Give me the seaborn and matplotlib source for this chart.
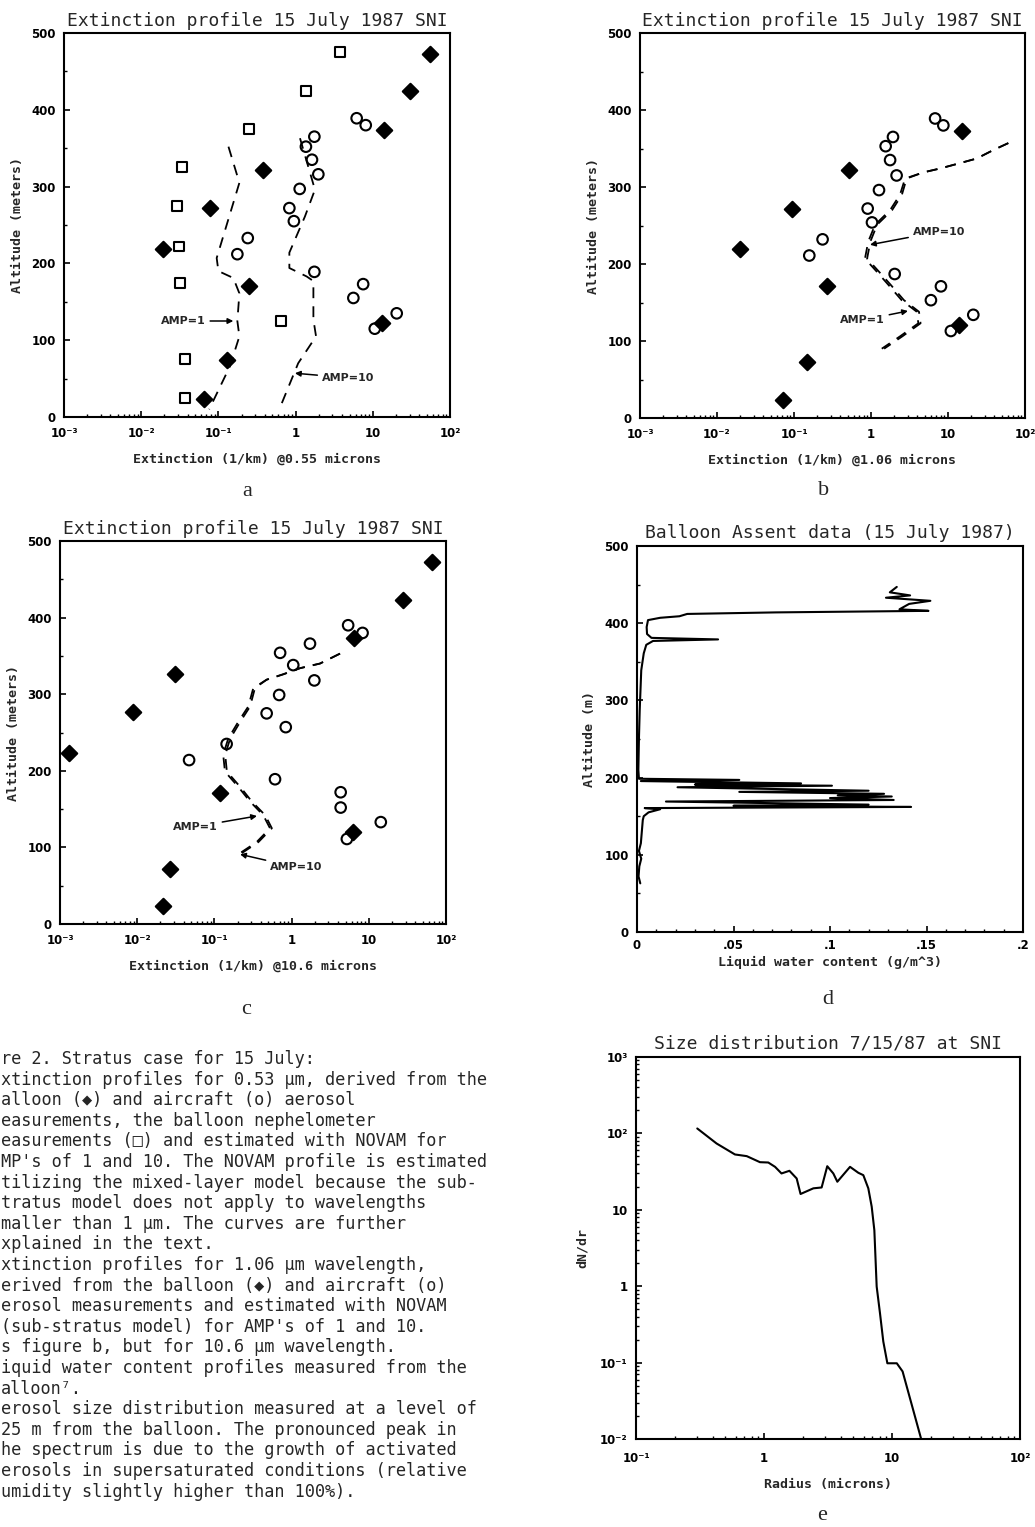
import numpy as np
import matplotlib
matplotlib.use("Agg")
import matplotlib.pyplot as plt
from matplotlib.ticker import MultipleLocator, LogLocator, NullFormatter
import seaborn as sns

# ---------------- data ----------------
ext_ticks = [1e-3, 1e-2, 1e-1, 1, 10, 100]
ext_ticklabels = ["10⁻³", "10⁻²", "10⁻¹", "1", "10", "10²"]
alt_ticks = [0, 100, 200, 300, 400, 500]

# panel a (0.55 micron)
a_neph_x = [3.76, 1.36, 0.25, 0.034, 0.029, 0.031, 0.032, 0.64, 0.037, 0.037]
a_neph_y = [475, 425, 375, 325, 275, 222, 175, 125, 75, 25]
a_bal_x = [55.6, 30.6, 14.1, 0.38, 0.077, 0.019, 0.246, 13.3, 0.128, 0.066]
a_bal_y = [473, 424, 374, 322, 272, 219, 171, 123, 74, 24]
a_air_x = [6.18, 8.1, 1.75, 1.36, 1.63, 1.97, 1.13, 0.83, 0.95, 0.24, 0.176, 1.75, 7.5, 5.6, 20.4, 10.6]
a_air_y = [389, 380, 365, 352, 335, 316, 297, 272, 255, 233, 212, 189, 173, 155, 135, 115]
a_amp1_x = [0.135, 0.187, 0.095, 0.1, 0.156, 0.187, 0.176, 0.187, 0.141, 0.076]
a_amp1_y = [352, 305, 207, 190, 181, 161, 125, 105, 66, 10]
a_amp10_x = [1.14, 1.78, 1.32, 0.83, 0.83, 1.39, 1.70, 1.70, 1.84, 1.08, 0.615]
a_amp10_y = [363, 296, 261, 214, 194, 183, 177, 127, 105, 70, 10]

# panel b (1.06 micron)
b_bal_x = [15, 0.52, 0.095, 0.0199, 0.271, 14, 0.149, 0.0726]
b_bal_y = [373, 322, 271, 219, 171, 121, 73, 24]
b_air_x = [6.8, 8.7, 1.93, 1.55, 1.77, 2.15, 1.27, 0.905, 1.03, 0.235, 0.158, 2.03, 8.1, 6.0, 21.3, 10.9]
b_air_y = [389, 380, 365, 353, 335, 315, 296, 272, 254, 232, 211, 187, 171, 153, 134, 113]
b_amp1_x = [60.7, 38.8, 23.6, 14.3, 7.87, 4.79, 2.77, 2.38, 1.77, 1.13, 0.92, 0.835, 1.19, 1.68, 2.5, 3.93, 4.12, 2.38, 1.38]
b_amp1_y = [357, 348, 337, 331, 324, 319, 311, 290, 270, 251, 229, 207, 190, 173, 153, 138, 123, 106, 90]
b_amp10_x = [60.7, 38.8, 23.6, 14.3, 7.87, 4.79, 2.9, 2.52, 1.88, 1.2, 0.98, 0.89, 1.27, 1.8, 2.68, 4.2, 4.4, 2.55, 1.48]
b_amp10_y = [357, 348, 337, 331, 324, 319, 311, 290, 270, 251, 229, 207, 190, 173, 153, 138, 123, 106, 90]

# panel c (10.6 micron)
c_bal_x = [65, 27.5, 6.5, 0.0305, 0.0087, 0.00131, 0.118, 6.2, 0.0266, 0.0218]
c_bal_y = [472, 423, 374, 326, 277, 223, 171, 120, 72, 23]
c_air_x = [5.4, 8.3, 1.73, 0.71, 1.05, 1.97, 0.69, 0.475, 0.84, 0.144, 0.047, 0.61, 4.32, 4.32, 14.3, 5.2]
c_air_y = [390, 380, 366, 354, 338, 318, 299, 275, 257, 235, 214, 189, 172, 152, 133, 111]
c_amp1_x = [4.24, 2.33, 1.29, 0.78, 0.476, 0.319, 0.275, 0.204, 0.151, 0.13, 0.137, 0.204, 0.289, 0.43, 0.525, 0.353, 0.204]
c_amp1_y = [353, 340, 334, 326, 319, 308, 284, 264, 242, 221, 199, 179, 160, 142, 125, 107, 91]
c_amp10_x = [4.24, 2.33, 1.29, 0.78, 0.476, 0.335, 0.29, 0.216, 0.16, 0.138, 0.145, 0.216, 0.305, 0.455, 0.555, 0.372, 0.215]
c_amp10_y = [353, 340, 334, 326, 319, 308, 284, 264, 242, 221, 199, 179, 160, 142, 125, 107, 91]

# panel d (balloon liquid water content)
d_lwc = [0.0017, 0.0008, 0.0012, 0.0022, 0.0010, 0.0020, 0.0025, 0.003, 0.0035, 0.006, 0.012, 0.004,
         0.142, 0.05, 0.12, 0.015, 0.133, 0.10, 0.132, 0.104, 0.128, 0.053, 0.12, 0.021, 0.101, 0.03,
         0.085, 0.002, 0.053, 0.001, 0.0007, 0.0010, 0.0014, 0.0022, 0.0035, 0.0048, 0.0083, 0.042,
         0.0075, 0.0052, 0.0050, 0.0057, 0.012, 0.022, 0.026, 0.072, 0.151, 0.136, 0.141, 0.152,
         0.129, 0.1415, 0.131, 0.1346]
d_alt = [63, 72, 85, 95, 105, 115, 130, 145, 150, 155, 159, 160.5,
         162, 163.5, 165, 169, 171, 173.5, 175.5, 177, 179, 181.5, 183, 187.5, 189.5, 191,
         192.5, 195.5, 197, 198.5, 210, 250, 287, 339, 361, 372, 377, 379,
         381, 386, 395, 404, 407, 409, 412, 414, 416, 418, 425, 429,
         433, 436, 440, 447]

# panel e (size distribution)
e_r = [0.301, 0.426, 0.593, 0.733, 0.93, 1.08, 1.22, 1.37, 1.58, 1.8, 1.93, 2.43, 2.82, 3.12, 3.48,
       3.74, 4.7, 5.46, 5.97, 6.53, 6.94, 7.28, 7.59, 8.06, 8.55, 9.2, 10.9, 12.1, 16.9]
e_dndr = [116, 73.8, 53, 50.4, 42, 41.6, 36.5, 29.9, 32.4, 25.7, 16.1, 19.1, 19.6, 37.2, 29.9,
          23.3, 36.5, 30.5, 28.4, 19.1, 11, 5.4, 0.99, 0.44, 0.189, 0.098, 0.098, 0.0766, 0.01]

caption_lines = [
    "re 2. Stratus case for 15 July:",
    "xtinction profiles for 0.53 μm, derived from the",
    "alloon (◆) and aircraft (o) aerosol",
    "easurements, the balloon nephelometer",
    "easurements (□) and estimated with NOVAM for",
    "MP's of 1 and 10. The NOVAM profile is estimated",
    "tilizing the mixed-layer model because the sub-",
    "tratus model does not apply to wavelengths",
    "maller than 1 μm. The curves are further",
    "xplained in the text.",
    "xtinction profiles for 1.06 μm wavelength,",
    "erived from the balloon (◆) and aircraft (o)",
    "erosol measurements and estimated with NOVAM",
    "(sub-stratus model) for AMP's of 1 and 10.",
    "s figure b, but for 10.6 μm wavelength.",
    "iquid water content profiles measured from the",
    "alloon⁷.",
    "erosol size distribution measured at a level of",
    "25 m from the balloon. The pronounced peak in",
    "he spectrum is due to the growth of activated",
    "erosols in supersaturated conditions (relative",
    "umidity slightly higher than 100%).",
]

# ---------------- style ----------------
sns.set_theme(style="ticks")
plt.rcParams.update({
    "font.family": ["DejaVu Sans"],
    "xtick.direction": "in", "ytick.direction": "in",
    "axes.linewidth": 1.5, "axes.edgecolor": "black",
    "xtick.major.size": 4, "ytick.major.size": 4,
    "xtick.minor.size": 2.5, "ytick.minor.size": 2.5,
    "xtick.major.width": 1.2, "ytick.major.width": 1.2,
    "xtick.minor.width": 1.0, "ytick.minor.width": 1.0,
    "xtick.color": "black", "ytick.color": "black",
    "axes.facecolor": "white", "figure.facecolor": "white",
})

W, H = 1035, 1527
fig = plt.figure(figsize=(W / 100, H / 100), dpi=100)


def add_ax(l, t, r, b):
    return fig.add_axes([l / W, 1 - b / H, (r - l) / W, (b - t) / H])


TICKFONT = dict(family="DejaVu Sans", weight="bold", size=8.5)
LABFONT = dict(family="DejaVu Sans Mono", weight="bold", size=9.5)
TITFONT = dict(family="DejaVu Sans Mono", size=13)
ANNFONT = dict(family="DejaVu Sans", weight="bold", size=8)
ARROW = dict(arrowstyle="-|>", color="black", lw=1.1, mutation_scale=8, shrinkA=1, shrinkB=0)


def style_profile(ax, xlabel):
    ax.set_xscale("log")
    ax.set_xlim(1e-3, 1e2)
    ax.set_ylim(0, 500)
    ax.set_xticks(ext_ticks)
    ax.set_xticklabels(ext_ticklabels, **TICKFONT)
    ax.xaxis.set_minor_locator(LogLocator(base=10, subs=np.arange(2, 10)))
    ax.xaxis.set_minor_formatter(NullFormatter())
    ax.set_yticks(alt_ticks)
    ax.set_yticklabels([str(v) for v in alt_ticks], **TICKFONT)
    ax.yaxis.set_minor_locator(MultipleLocator(50))
    ax.tick_params(axis="x", pad=7)
    ax.tick_params(axis="y", pad=6)
    ax.set_xlabel(xlabel, labelpad=9, **LABFONT)
    ax.set_ylabel("Altitude (meters)", labelpad=5, **LABFONT)
    ax.set_title("Extinction profile 15 July 1987 SNI", pad=5, **TITFONT)


def pts(ax, x, y, marker, filled, s):
    sns.scatterplot(x=x, y=y, ax=ax, marker=marker, s=s, color="black",
                    edgecolor="black", linewidth=1.5, legend=False, zorder=3)
    if not filled:
        ax.collections[-1].set_facecolor("none")


def prof(ax, x, y, ls=(0, (6, 4.5)), lw=1.3):
    sns.lineplot(x=x, y=y, ax=ax, sort=False, estimator=None, color="black",
                 linewidth=lw, linestyle=ls, legend=False)


# ---- panel a ----
ax = add_ax(64, 33, 450, 417)
style_profile(ax, "Extinction (1/km) @0.55 microns")
prof(ax, a_amp1_x, a_amp1_y)
prof(ax, a_amp10_x, a_amp10_y)
pts(ax, a_neph_x, a_neph_y, "s", False, 50)
pts(ax, a_bal_x, a_bal_y, "D", True, 62)
pts(ax, a_air_x, a_air_y, "o", False, 58)
ax.annotate("AMP=1", xy=(0.156, 125), xytext=(0.068, 125), ha="right", va="center",
            arrowprops=ARROW, **ANNFONT)
ax.annotate("AMP=10", xy=(0.98, 57), xytext=(2.2, 51), ha="left", va="center",
            arrowprops=ARROW, **ANNFONT)

# ---- panel b ----
ax = add_ax(640, 33, 1025, 418)
style_profile(ax, "Extinction (1/km) @1.06 microns")
prof(ax, b_amp1_x, b_amp1_y)
prof(ax, b_amp10_x, b_amp10_y)
pts(ax, b_bal_x, b_bal_y, "D", True, 62)
pts(ax, b_air_x, b_air_y, "o", False, 58)
ax.annotate("AMP=10", xy=(0.97, 225), xytext=(3.5, 242), ha="left", va="center",
            arrowprops=ARROW, **ANNFONT)
ax.annotate("AMP=1", xy=(3.02, 139), xytext=(1.5, 127), ha="right", va="center",
            arrowprops=ARROW, **ANNFONT)

# ---- panel c ----
ax = add_ax(60, 541, 446, 924)
style_profile(ax, "Extinction (1/km) @10.6 microns")
prof(ax, c_amp1_x, c_amp1_y)
prof(ax, c_amp10_x, c_amp10_y)
pts(ax, c_bal_x, c_bal_y, "D", True, 62)
pts(ax, c_air_x, c_air_y, "o", False, 58)
ax.annotate("AMP=1", xy=(0.356, 141), xytext=(0.11, 127), ha="right", va="center",
            arrowprops=ARROW, **ANNFONT)
ax.annotate("AMP=10", xy=(0.215, 91), xytext=(0.53, 74), ha="left", va="center",
            arrowprops=ARROW, **ANNFONT)

# ---- panel d ----
ax = add_ax(637, 546, 1023, 932)
prof(ax, d_lwc, d_alt, ls="-", lw=1.5)
ax.set_xlim(0, 0.2)
ax.set_ylim(0, 500)
d_xt = [0, 0.05, 0.1, 0.15, 0.2]
ax.set_xticks(d_xt)
ax.set_xticklabels(["0", ".05", ".1", ".15", ".2"], **TICKFONT)
ax.xaxis.set_minor_locator(MultipleLocator(0.01))
ax.set_yticks(alt_ticks)
ax.set_yticklabels([str(v) for v in alt_ticks], **TICKFONT)
ax.yaxis.set_minor_locator(MultipleLocator(50))
ax.tick_params(axis="x", pad=5)
ax.tick_params(axis="y", pad=6)
ax.set_xlabel("Liquid water content (g/m^3)", labelpad=3, **LABFONT)
ax.set_ylabel("Altitude (m)", labelpad=6, **LABFONT)
ax.set_title("Balloon Assent data (15 July 1987)", pad=6, **TITFONT)

# ---- panel e ----
ax = add_ax(636, 1057, 1020, 1439)
ax.set_xscale("log")
ax.set_yscale("log")
prof(ax, e_r, e_dndr, ls="-", lw=1.5)
ax.set_xlim(0.1, 100)
ax.set_ylim(0.01, 1000)
ax.set_xticks([0.1, 1, 10, 100])
ax.set_xticklabels(["10⁻¹", "1", "10", "10²"], **TICKFONT)
ax.set_yticks([0.01, 0.1, 1, 10, 100, 1000])
ax.set_yticklabels(["10⁻²", "10⁻¹", "1", "10", "10²", "10³"], **TICKFONT)
for axis in (ax.xaxis, ax.yaxis):
    axis.set_minor_locator(LogLocator(base=10, subs=np.arange(2, 10)))
    axis.set_minor_formatter(NullFormatter())
ax.tick_params(axis="x", pad=9)
ax.tick_params(axis="y", pad=6)
ax.set_xlabel("Radius (microns)", labelpad=10, **LABFONT)
ax.set_ylabel("dN/dr", labelpad=8, **LABFONT)
ax.set_title("Size distribution 7/15/87 at SNI", pad=6, **TITFONT)

# ---- panel letters ----
for letter, (px, py) in zip("abcde", [(247, 491), (824, 490), (246, 1010), (828, 1000), (822, 1515)]):
    fig.text(px / W, 1 - py / H, letter, family="Liberation Serif", size=16,
             ha="center", va="center")

# ---- caption ----
for i, line in enumerate(caption_lines):
    fig.text(1 / W, 1 - (1059 + i * 20.6) / H, line, family=["DejaVu Sans Mono", "DejaVu Sans"],
             size=12.2, ha="left", va="center")

fig.savefig("out.png", dpi=100)
